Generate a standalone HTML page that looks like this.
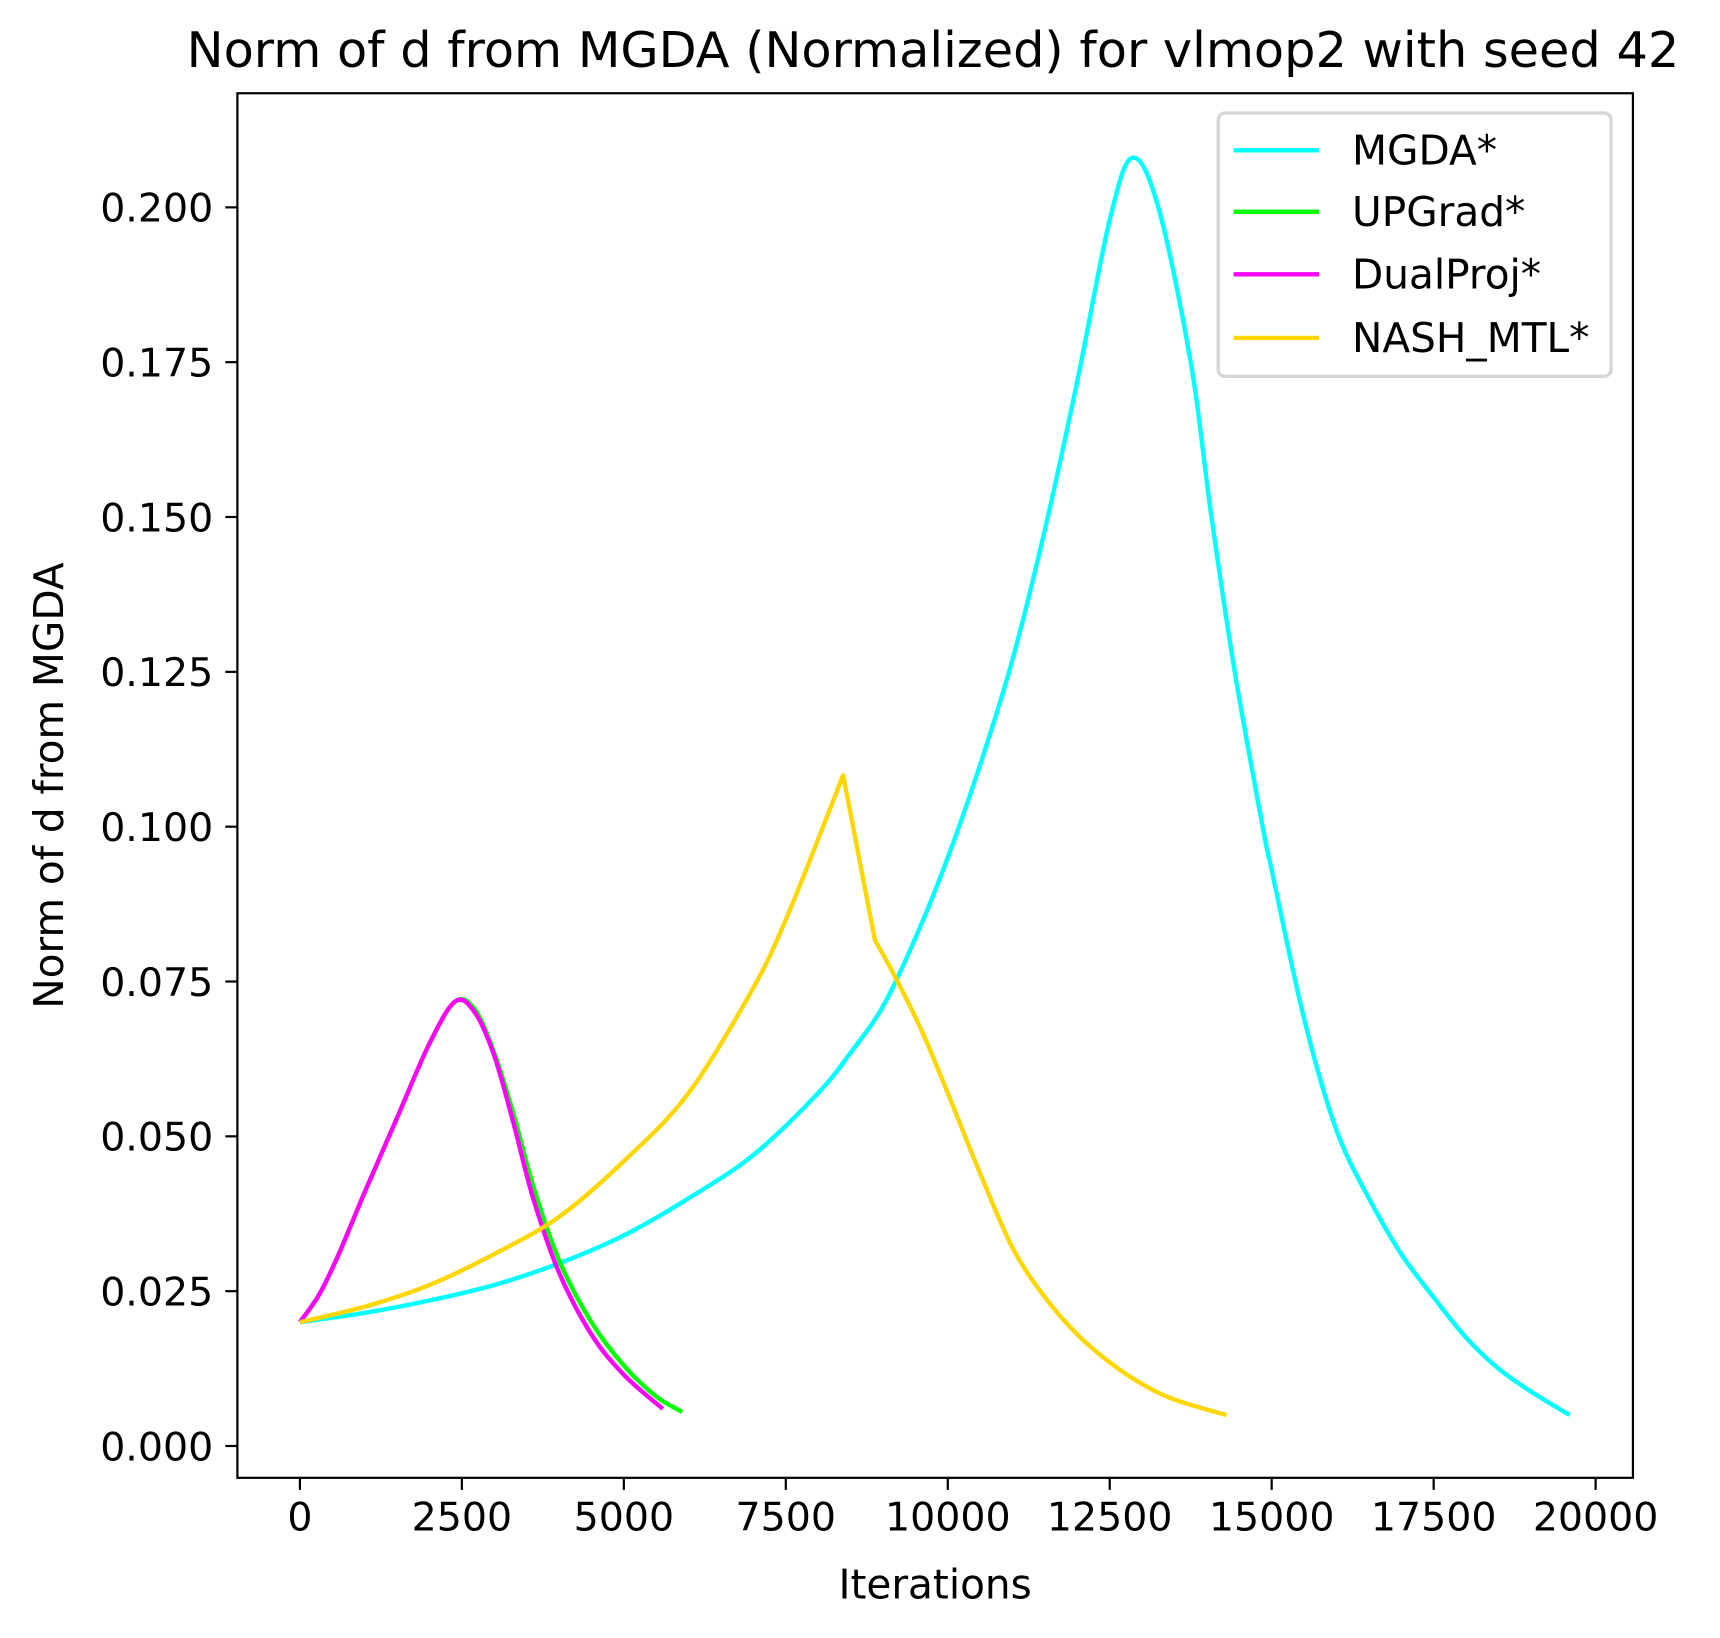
<!DOCTYPE html>
<html><head><meta charset="utf-8"><style>
html,body{margin:0;padding:0;background:#fff;}
svg{display:block;font-family:"DejaVu Sans","Liberation Sans",sans-serif;}
</style></head><body>
<svg id="chart" width="1720" height="1638" viewBox="0 0 1567 1493" xmlns="http://www.w3.org/2000/svg">
<rect x="0" y="0" width="1567" height="1493" fill="#fff"/>
<text x="850" y="61" font-size="45" text-anchor="middle">Norm of d from MGDA (Normalized) for vlmop2 with seed 42</text>
<g id="plot"></g>
<g id="axes"></g>
<text x="852" y="1457" font-size="37" text-anchor="middle">Iterations</text>
<text transform="translate(57,716) rotate(-90)" font-size="37" text-anchor="middle">Norm of d from MGDA</text>
<g>
<rect x="1110" y="103" width="358" height="240" rx="6" fill="#fff" stroke="#d6d6d6" stroke-width="3"/>
<g><line x1="1124" y1="137" x2="1202" y2="137" stroke="#00ffff" stroke-width="4"/><text x="1232" y="150" font-size="37">MGDA*</text></g>
<g><line x1="1124" y1="193" x2="1202" y2="193" stroke="#00ff00" stroke-width="4"/><text x="1232" y="206" font-size="37">UPGrad*</text></g>
<g><line x1="1124" y1="250" x2="1202" y2="250" stroke="#ff00ff" stroke-width="4"/><text x="1232" y="263" font-size="37">DualProj*</text></g>
<g><line x1="1124" y1="308" x2="1202" y2="308" stroke="#ffd700" stroke-width="4"/><text x="1232" y="321" font-size="37">NASH_MTL*</text></g>
</g>
</svg>
<script>
const xTicks = [0,2500,5000,7500,10000,12500,15000,17500,20000];
const yTicks = [0,0.025,0.05,0.075,0.1,0.125,0.15,0.175,0.2];
const yTickLabels = ["0.000","0.025","0.050","0.075","0.100","0.125","0.150","0.175","0.200"];
const mgdaX = [0,1000,2000,3000,4000,5000,6000,7000,8000,8500,9000,9500,10000,10500,11000,11500,12000,12500,12850,13250,13750,14070,14430,14860,15000,15500,16000,16500,17000,17500,18000,18500,19000,19600];
const mgdaY = [0.020,0.0215,0.0235,0.026,0.0295,0.034,0.040,0.047,0.057,0.0635,0.071,0.082,0.095,0.110,0.127,0.148,0.172,0.198,0.208,0.200,0.175,0.150,0.125,0.100,0.093,0.069,0.051,0.040,0.031,0.024,0.0175,0.0125,0.0088,0.005];
const upgradX = [0,300,600,1000,1500,2000,2400,2700,3000,3300,3600,4000,4500,5000,5500,5900];
const upgradY = [0.020,0.0245,0.031,0.041,0.053,0.065,0.0718,0.0705,0.0635,0.0535,0.042,0.030,0.020,0.013,0.008,0.0055];
const dualX = [0,300,600,1000,1500,2000,2400,2700,3000,3300,3600,4000,4500,5000,5600];
const dualY = [0.020,0.0245,0.031,0.041,0.053,0.065,0.0718,0.070,0.063,0.052,0.040,0.028,0.018,0.0115,0.006];
const nashX = [0,1000,2000,3000,4000,5000,6000,7000,7500,8000,8385,8875,9200,9600,10000,10500,11000,11500,12000,12500,13000,13500,14300];
const nashY = [0.020,0.0225,0.026,0.031,0.037,0.046,0.057,0.074,0.085,0.098,0.1083,0.0817,0.0755,0.067,0.057,0.044,0.032,0.024,0.018,0.0135,0.010,0.0075,0.005];

const L=216,R=1488,T=85,B=1347;
function sx(v){return 273 + v*(1454-273)/20000;}
function sy(v){return 1318 - v*(1318-189)/0.2;}
const NS='http://www.w3.org/2000/svg';
const plot=document.getElementById('plot');
const axes=document.getElementById('axes');

function smoothPiece(p){
  let d='';
  for(let i=0;i<p.length-1;i++){
    const p0=p[i-1]||p[i],p1=p[i],p2=p[i+1],p3=p[i+2]||p2;
    const c1=[p1[0]+(p2[0]-p0[0])/6,p1[1]+(p2[1]-p0[1])/6];
    const c2=[p2[0]-(p3[0]-p1[0])/6,p2[1]-(p3[1]-p1[1])/6];
    d+=' C'+c1.map(v=>v.toFixed(2)).join(',')+' '+c2.map(v=>v.toFixed(2)).join(',')+' '+p2.map(v=>v.toFixed(2)).join(',');
  }
  return d;
}
function pathFor(xs,ys,breaks){
  const p=xs.map((x,i)=>[sx(x),sy(ys[i])]);
  const idx=[0].concat(breaks||[]).concat([p.length-1]);
  let d='M'+p[0][0].toFixed(2)+','+p[0][1].toFixed(2);
  for(let k=0;k<idx.length-1;k++){
    d+=smoothPiece(p.slice(idx[k],idx[k+1]+1));
  }
  return d;
}
function addSeries(xs,ys,color,name,breaks){
  const el=document.createElementNS(NS,'path');
  el.setAttribute('d',pathFor(xs,ys,breaks));
  el.setAttribute('fill','none');
  el.setAttribute('stroke',color);
  el.setAttribute('stroke-width','4');
  el.setAttribute('stroke-linejoin','round');
  
  
  plot.appendChild(el);
}
addSeries(mgdaX,mgdaY,'#00ffff','series-mgda');
addSeries(upgradX,upgradY,'#00ff00','series-upgrad');
addSeries(dualX,dualY,'#ff00ff','series-dualproj');
addSeries(nashX,nashY,'#ffd700','series-nash-mtl',[10,11]);

const frame=document.createElementNS(NS,'rect');
frame.setAttribute('x',L);frame.setAttribute('y',T);frame.setAttribute('width',R-L);frame.setAttribute('height',B-T);
frame.setAttribute('fill','none');frame.setAttribute('stroke','#000');frame.setAttribute('stroke-width','2');


axes.appendChild(frame);

xTicks.forEach(v=>{
  const x=sx(v);
  const t=document.createElementNS(NS,'line');
  t.setAttribute('x1',x);t.setAttribute('x2',x);t.setAttribute('y1',B);t.setAttribute('y2',B+11);
  t.setAttribute('stroke','#000');t.setAttribute('stroke-width','2');
  
  
  axes.appendChild(t);
  const l=document.createElementNS(NS,'text');
  l.setAttribute('x',x);l.setAttribute('y',B+48);l.setAttribute('font-size','36');l.setAttribute('text-anchor','middle');
  l.textContent=String(v);
  
  
  axes.appendChild(l);
});
yTicks.forEach((v,i)=>{
  const y=sy(v);
  const t=document.createElementNS(NS,'line');
  t.setAttribute('x1',L-11);t.setAttribute('x2',L);t.setAttribute('y1',y);t.setAttribute('y2',y);
  t.setAttribute('stroke','#000');t.setAttribute('stroke-width','2');
  
  
  axes.appendChild(t);
  const l=document.createElementNS(NS,'text');
  l.setAttribute('x',L-22);l.setAttribute('y',y+13);l.setAttribute('font-size','36');l.setAttribute('text-anchor','end');
  l.textContent=yTickLabels[i];
  
  
  axes.appendChild(l);
});
</script>
</body></html>
